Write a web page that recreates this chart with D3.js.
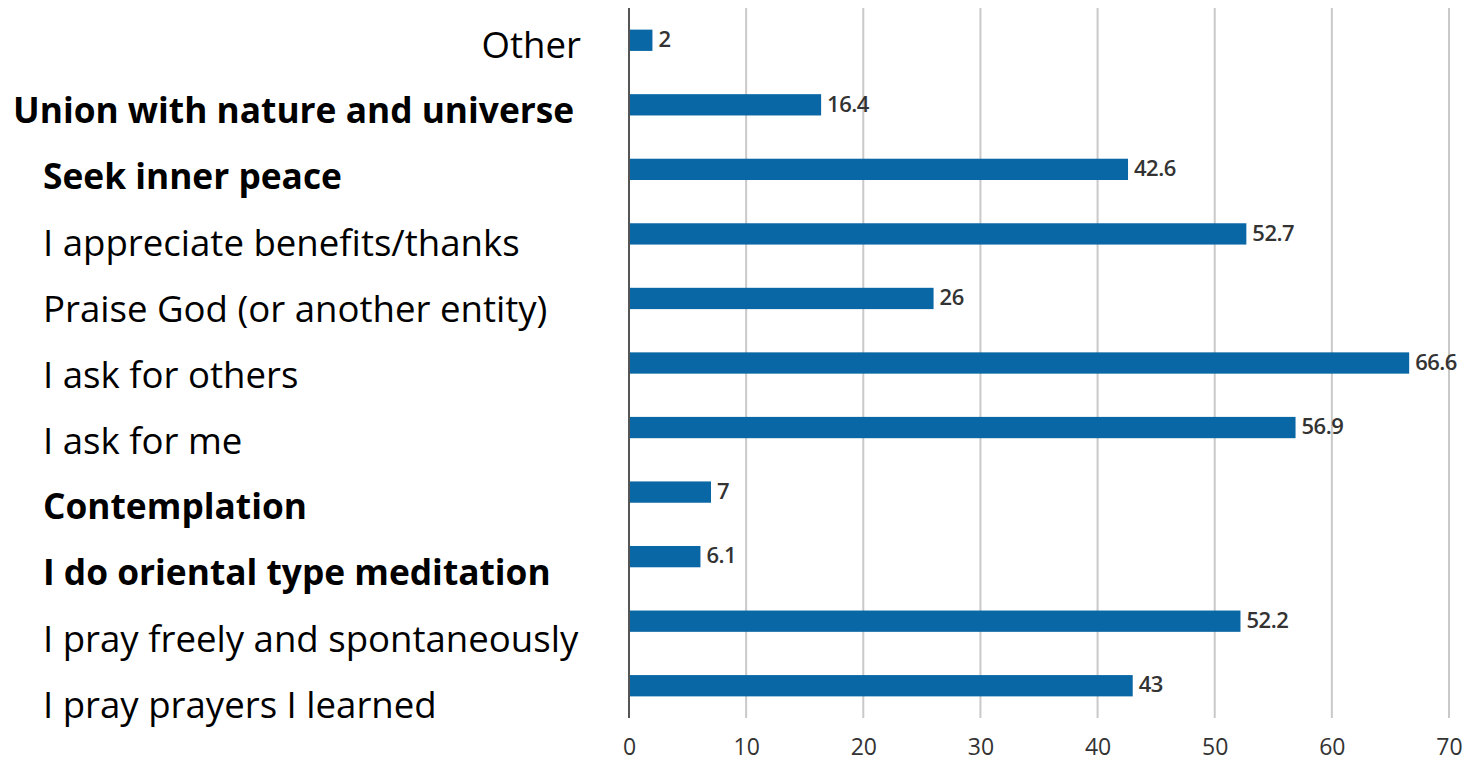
<!DOCTYPE html>
<html>
<head>
<meta charset="utf-8">
<script src="https://cdn.jsdelivr.net/npm/d3@7"></script>
<style>
  html, body { margin: 0; padding: 0; background: #fff; }
  svg { display: block; }
</style>
</head>
<body>
<svg id="chart" width="1474" height="766"></svg>
<script>
// ---- data ----
const categories = [
  "Other",
  "Union with nature and universe",
  "Seek inner peace",
  "I appreciate benefits/thanks",
  "Praise God (or another entity)",
  "I ask for others",
  "I ask for me",
  "Contemplation",
  "I do oriental type meditation",
  "I pray freely and spontaneously",
  "I pray prayers I learned"
];
const values = [2, 16.4, 42.6, 52.7, 26, 66.6, 56.9, 7, 6.1, 52.2, 43];
const valueLabels = ["2", "16.4", "42.6", "52.7", "26", "66.6", "56.9", "7", "6.1", "52.2", "43"];
const tickValues = [0, 10, 20, 30, 40, 50, 60, 70];

// ---- drawing ----
const svg = d3.select("#chart");
const boldSet = new Set([
  "Union with nature and universe",
  "Seek inner peace",
  "Contemplation",
  "I do oriental type meditation"
]);

const x = d3.scaleLinear().domain([0, 70]).range([629, 1449]);
const y = d3.scaleBand().domain(categories).range([8, 718]).paddingInner(0.67).paddingOuter(0.335);
const yLabel = d3.scalePoint().domain(categories).range([45, 705]);

// gridlines
svg.append("g")
  .selectAll("line")
  .data(tickValues.filter(d => d !== 0))
  .join("line")
  .attr("x1", d => x(d)).attr("x2", d => x(d))
  .attr("y1", 8).attr("y2", 718)
  .attr("stroke", "#c9c9c9")
  .attr("stroke-width", 2);

// bars
svg.append("g")
  .selectAll("rect")
  .data(categories)
  .join("rect")
  .attr("x", x(0))
  .attr("y", d => y(d))
  .attr("width", (d, i) => x(values[i]) - x(0))
  .attr("height", y.bandwidth())
  .attr("fill", "#0a67a5");

// zero line
svg.append("line")
  .attr("x1", x(0)).attr("x2", x(0))
  .attr("y1", 8).attr("y2", 718)
  .attr("stroke", "#555")
  .attr("stroke-width", 2);

// value labels
svg.append("g")
  .selectAll("text")
  .data(categories)
  .join("text")
  .attr("x", (d, i) => x(values[i]) + 6)
  .attr("y", d => y(d) + y.bandwidth() / 2 - 1)
  .attr("dy", "0.35em")
  .attr("font-family", "Open Sans, sans-serif")
  .attr("font-weight", 600)
  .attr("font-size", 22)
  .attr("letter-spacing", -0.5)
  .attr("fill", "#333")
  .text((d, i) => valueLabels[i]);

// x axis labels
const xAxis = d3.axisBottom(x).tickValues(tickValues).tickSize(0).tickPadding(0);
const gx = svg.append("g").attr("transform", "translate(0,739)").call(xAxis);
gx.select(".domain").remove();
gx.selectAll("text")
  .attr("font-family", "Open Sans, sans-serif")
  .attr("font-size", 23)
  .attr("fill", "#333");

// category labels
svg.append("g")
  .selectAll("text")
  .data(categories)
  .join("text")
  .attr("y", d => yLabel(d))
  .attr("dy", "0.35em")
  .attr("font-family", "Open Sans, sans-serif")
  .attr("font-size", d => boldSet.has(d) ? 35.3 : 36.6)
  .attr("font-weight", d => boldSet.has(d) ? "bold" : "normal")
  .attr("fill", "#000")
  .attr("text-anchor", (d, i) => i === 0 ? "end" : "start")
  .attr("x", (d, i) => i === 0 ? 581 : (i === 1 ? 13 : 43))
  .text(d => d);
</script>
</body>
</html>
